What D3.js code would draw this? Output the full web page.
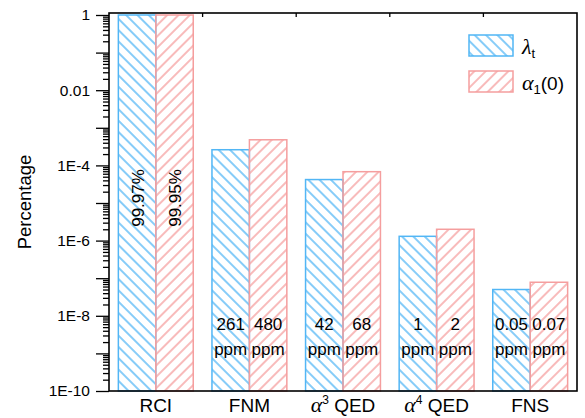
<!DOCTYPE html>
<html>
<head>
<meta charset="utf-8">
<script src="https://cdn.jsdelivr.net/npm/d3@7"></script>
<style>
  body { margin: 0; background: #fff; }
  text { font-family: "Liberation Sans", Arial, sans-serif; fill: #000; }
  .greek { font-family: "Liberation Serif", "Times New Roman", serif; font-style: italic; }
</style>
</head>
<body>
<div id="chart"></div>
<script>
// chart data
var categories = ["RCI", "FNM", "α3 QED", "α4 QED", "FNS"];
var seriesNames = ["lambda", "alpha"];
var lambdaValues = [0.9997, 2.61e-4, 4.2e-5, 1.3e-6, 5.0e-8];
var alphaValues = [0.9995, 4.8e-4, 6.8e-5, 2.0e-6, 7.8e-8];
var lambdaLabels = ["99.97%", "261", "42", "1", "0.05"];
var alphaLabels = ["99.95%", "480", "68", "2", "0.07"];
var yTickValues = [1, 1e-2, 1e-4, 1e-6, 1e-8, 1e-10];
var yTickLabels = ["1", "0.01", "1E-4", "1E-6", "1E-8", "1E-10"];

var blue = "#52b6f5";
var red = "#f59e9e";

// svg area
var svgWidth = 585;
var svgHeight = 418;
var chartMargin = { top: 13, right: 8, bottom: 27, left: 109 };
var chartWidth = svgWidth - chartMargin.left - chartMargin.right;
var chartHeight = svgHeight - chartMargin.top - chartMargin.bottom;

var svg = d3.select("#chart")
    .append("svg")
    .attr("width", svgWidth)
    .attr("height", svgHeight);

// hatch patterns
var defs = svg.append("defs");
function hatch(id, color, angle) {
    var p = defs.append("pattern")
        .attr("id", id)
        .attr("patternUnits", "userSpaceOnUse")
        .attr("width", 8)
        .attr("height", 8)
        .attr("patternTransform", "rotate(" + angle + ")");
    p.append("line")
        .attr("x1", 4).attr("y1", -1)
        .attr("x2", 4).attr("y2", 9)
        .attr("stroke", color)
        .attr("stroke-width", 1.4);
}
hatch("hatch-blue", blue, -45);
hatch("hatch-red", red, 45);

var chartGroup = svg.append("g")
    .attr("transform", `translate(${chartMargin.left}, ${chartMargin.top})`);

// scales
var xScale = d3.scaleBand()
    .domain(categories)
    .range([0, chartWidth])
    .paddingInner(0.2)
    .paddingOuter(0.1);

var xSub = d3.scaleBand()
    .domain(seriesNames)
    .range([0, xScale.bandwidth()]);

var yScale = d3.scaleLog()
    .domain([1e-10, 1.13])
    .range([chartHeight, 0]);

// bars
var rows = categories.map(function(c, i) {
    return { cat: c, lambda: lambdaValues[i], alpha: alphaValues[i] };
});

var groups = chartGroup.selectAll(".grp")
    .data(rows)
    .enter()
    .append("g")
    .attr("class", "grp")
    .attr("transform", d => `translate(${xScale(d.cat)}, 0)`);

groups.selectAll("rect")
    .data(d => seriesNames.map(k => ({ key: k, value: d[k] })))
    .enter()
    .append("rect")
    .attr("x", d => xSub(d.key))
    .attr("y", d => yScale(d.value))
    .attr("width", xSub.bandwidth())
    .attr("height", d => chartHeight - yScale(d.value))
    .attr("fill", d => d.key === "lambda" ? "url(#hatch-blue)" : "url(#hatch-red)")
    .attr("stroke", d => d.key === "lambda" ? blue : red)
    .attr("stroke-width", 1.5);

// labels inside bars
categories.forEach(function(c, i) {
    var labs = [lambdaLabels[i], alphaLabels[i]];
    seriesNames.forEach(function(k, j) {
        var cx = xScale(c) + xSub(k) + xSub.bandwidth() / 2;
        if (i === 0) {
            chartGroup.append("text")
                .attr("transform", `translate(${cx + 1}, 185) rotate(-90)`)
                .attr("text-anchor", "middle")
                .attr("dominant-baseline", "central")
                .style("font-size", "17px")
                .text(labs[j]);
        } else {
            chartGroup.append("text")
                .attr("x", cx)
                .attr("y", 317)
                .attr("text-anchor", "middle")
                .style("font-size", "17px")
                .text(labs[j]);
            chartGroup.append("text")
                .attr("x", cx)
                .attr("y", 342)
                .attr("text-anchor", "middle")
                .style("font-size", "17px")
                .text("ppm");
        }
    });
});

// y axis major + minor ticks
var majors = d3.range(0, 11).map(e => Math.pow(10, -e));
var minors = [];
majors.slice(1).forEach(function(m) {
    for (var k = 2; k <= 9; k++) minors.push(m * k);
});

var leftMajor = d3.axisLeft(yScale)
    .tickValues(majors)
    .tickSize(13)
    .tickPadding(6)
    .tickFormat(function(v) {
        var idx = yTickValues.findIndex(t => Math.abs(Math.log10(t) - Math.log10(v)) < 1e-6);
        return idx >= 0 ? yTickLabels[idx] : "";
    });
var leftMinor = d3.axisLeft(yScale)
    .tickValues(minors)
    .tickSize(6)
    .tickFormat("");

var yAx = chartGroup.append("g").call(leftMajor);
chartGroup.append("g").call(leftMinor).select(".domain").remove();
yAx.select(".domain").remove();
yAx.selectAll("text")
    .style("font-size", "15.5px")
    .style("font-family", "'Liberation Sans', Arial, sans-serif");
chartGroup.selectAll(".tick line").attr("stroke", "#000").attr("stroke-width", 1.3);

// top ticks between groups
var step = xScale.step();
chartGroup.selectAll(".toptick")
    .data(categories.slice(1))
    .enter()
    .append("line")
    .attr("x1", d => xScale(d) - step * 0.1)
    .attr("x2", d => xScale(d) - step * 0.1)
    .attr("y1", 0)
    .attr("y2", 4)
    .attr("stroke", "#000")
    .attr("stroke-width", 1.3);

// frame
chartGroup.append("rect")
    .attr("x", 0)
    .attr("y", 0)
    .attr("width", chartWidth)
    .attr("height", chartHeight)
    .attr("fill", "none")
    .attr("stroke", "#000")
    .attr("stroke-width", 1.6);

// x labels
categories.forEach(function(c) {
    var t = chartGroup.append("text")
        .attr("x", xScale(c) + xScale.bandwidth() / 2)
        .attr("y", chartHeight + 21)
        .attr("text-anchor", "middle")
        .style("font-size", "19px");
    if (c.charAt(0) === "α") {
        t.append("tspan").attr("class", "greek").style("font-size", "22px").text("α");
        t.append("tspan").attr("dy", -8).style("font-size", "12px").text(c.charAt(1));
        t.append("tspan").attr("dy", 8).text(c.slice(2));
    } else {
        t.text(c);
    }
});

// y title
chartGroup.append("text")
    .attr("transform", `translate(${31 - chartMargin.left}, ${chartHeight / 2}) rotate(-90)`)
    .attr("text-anchor", "middle")
    .style("font-size", "18.5px")
    .text("Percentage");

// legend
var legend = svg.append("g").attr("transform", "translate(469, 35)");
var legendItems = [
    { fill: "url(#hatch-blue)", stroke: blue, sym: "λ", sub: "t", rest: "" },
    { fill: "url(#hatch-red)", stroke: red, sym: "α", sub: "1", rest: "(0)" }
];
legendItems.forEach(function(d, i) {
    var g = legend.append("g").attr("transform", `translate(0, ${i * 36})`);
    g.append("rect")
        .attr("width", 44)
        .attr("height", 21)
        .attr("fill", d.fill)
        .attr("stroke", d.stroke)
        .attr("stroke-width", 1.5);
    var t = g.append("text")
        .attr("x", 53)
        .attr("y", 19)
        .style("font-size", "19px");
    t.append("tspan").attr("class", "greek").style("font-size", "22px").text(d.sym);
    t.append("tspan").attr("dy", 4).style("font-size", "13px").text(d.sub);
    if (d.rest) t.append("tspan").attr("dy", -4).text(d.rest);
});
</script>
</body>
</html>
